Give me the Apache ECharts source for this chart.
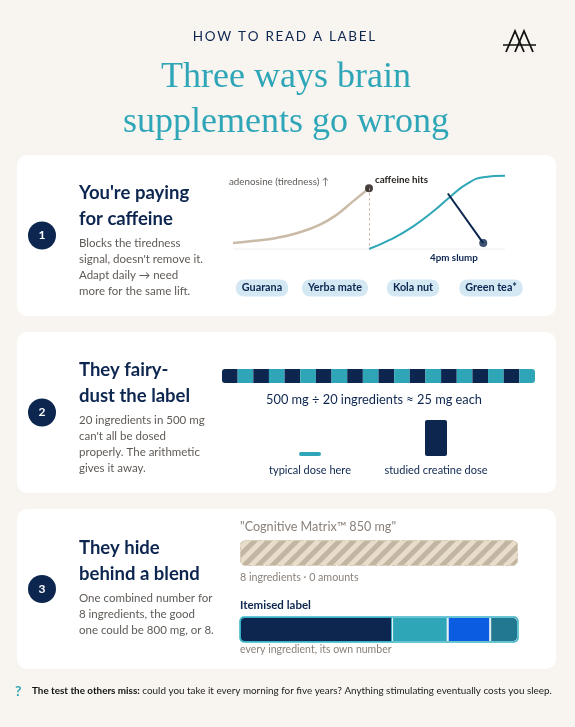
<!DOCTYPE html>
<html><head><meta charset="utf-8">
<script src="https://cdn.jsdelivr.net/npm/echarts@6/dist/echarts.min.js"></script>
<style>html,body{margin:0;padding:0;background:#f8f5f0}#c{width:575px;height:727px}</style>
</head><body><div id="c"></div>
<script>
// ---- data ----
const adenosineCurve = [[0,8],[8,11],[16,15],[24,22],[32,33],[38,46],[44,64],[50,82]];
const caffeineCurve = [[50,0],[58,13],[66,30],[74,52],[80,71],[86,88],[92,97],[100,99]];
const slumpLine = [[79,75],[92,8]];
const caffeineSources = ['Guarana','Yerba mate','Kola nut','Green tea*'];
const blendTotalMg = 500;
const ingredientCount = 20;
const ingredientShares = Array.from({length: ingredientCount}, () => 25);
const doseCategories = ['typical dose here','studied creatine dose'];
const doseHeights = [4, 36];
const blendLabelMg = 850;
const itemisedNames = ['Ingredient A','Ingredient B','Ingredient C','Ingredient D'];
const itemisedMg = [465, 170, 130, 85];

const NAVY='#0d2650', TEAL='#2fa6b8', BEIGE='#c9bba8', GRAY='#5f5a56';
const F='Lato, "Noto Sans", sans-serif';
const chart = echarts.init(document.getElementById('c'));

function txt(x,y,t,o){return Object.assign({type:'text',x:x,y:y,style:Object.assign({text:t,fill:NAVY,font:'12px '+F,textVerticalAlign:'middle'},o||{})});}
function spaced(s){return s.split('').join('\u2009');}
const g = [];
g.push(txt(284,37,spaced('HOW TO READ A LABEL'),{fontFamily:F,fontSize:13.5,align:'center',fill:NAVY}));
g.push(txt(286,78,'Three ways brain',{fontFamily:'"Liberation Serif", serif',fontSize:36,align:'center',fill:TEAL}));
g.push(txt(286,123,'supplements go wrong',{fontFamily:'"Liberation Serif", serif',fontSize:36,align:'center',fill:TEAL}));
// logo
g.push({type:'polyline',shape:{points:[[506,52],[515,31],[524,52]]},style:{stroke:'#111',lineWidth:1.8,fill:null}});
g.push({type:'polyline',shape:{points:[[515,52],[524,31],[533,52]]},style:{stroke:'#111',lineWidth:1.8,fill:null}});
g.push({type:'line',shape:{x1:503,y1:45,x2:536,y2:45},style:{stroke:'#111',lineWidth:1.6}});

const cards=[[155,161],[332,161],[509,160]];
const heads=[["You're paying","for caffeine"],["They fairy-","dust the label"],["They hide","behind a blend"]];
const bodies=[["Blocks the tiredness","signal, doesn't remove it.","Adapt daily → need","more for the same lift."],
["20 ingredients in 500 mg","can't all be dosed","properly. The arithmetic","gives it away."],
["One combined number for","8 ingredients, the good","one could be 800 mg, or 8."]];
const headY=[193,370,548];
cards.forEach((c,i)=>{
  g.push({type:'rect',shape:{x:17,y:c[0],width:539,height:c[1],r:10},style:{fill:'#fff'},z:-1});
  const cy=c[0]+c[1]/2;
  g.push({type:'circle',shape:{cx:42,cy:cy,r:14},style:{fill:NAVY}});
  g.push(txt(42,cy,String(i+1),{align:'center',fill:'#fff',fontFamily:F,fontSize:12,fontWeight:'bold'}));
  g.push(txt(79,headY[i],heads[i][0],{fontFamily:F,fontSize:18.5,fontWeight:'bold'}));
  g.push(txt(79,headY[i]+26,heads[i][1],{fontFamily:F,fontSize:18.5,fontWeight:'bold'}));
  bodies[i].forEach((b,j)=>g.push(txt(79,headY[i]+50+j*16,b,{fontFamily:F,fontSize:11.5,fill:GRAY})));
});
// card1 annotations
g.push(txt(229,182,'adenosine (tiredness) ↑',{fontFamily:F,fontSize:9.8,fill:GRAY}));
g.push(txt(375,180,'caffeine hits',{fontFamily:F,fontSize:9.8,fontWeight:'bold',fill:'#2a2420'}));
g.push(txt(430,258,'4pm slump',{fontFamily:F,fontSize:9.8,fontWeight:'bold',fill:NAVY}));
g.push({type:'line',shape:{x1:233,y1:249,x2:505,y2:249},style:{stroke:'#eeeeee',lineWidth:1},z:-0.5});
const pillX=[262,335,413,491];
caffeineSources.forEach((s,i)=>g.push(txt(pillX[i],288,s,{fontFamily:F,fontSize:10.8,fontWeight:'bold',align:'center',fill:NAVY,backgroundColor:'#d3e8f3',borderRadius:8,padding:[3,6]})));
// card2
g.push(txt(374,400,blendTotalMg+' mg ÷ '+ingredientCount+' ingredients ≈ '+(blendTotalMg/ingredientCount)+' mg each',{fontFamily:F,fontSize:12.8,align:'center',fill:NAVY}));
// card3
g.push(txt(240,527,'"Cognitive Matrix™ '+blendLabelMg+' mg"',{fontFamily:F,fontSize:12.6,fill:'#8a817a'}));
g.push(txt(240,578,'8 ingredients · 0 amounts',{fontFamily:F,fontSize:10.7,fill:'#8a817a'}));
g.push(txt(240,605,'Itemised label',{fontFamily:F,fontSize:11.5,fontWeight:'bold',fill:NAVY}));
g.push(txt(240,650,'every ingredient, its own number',{fontFamily:F,fontSize:10.5,fill:'#8a817a'}));
// footer
g.push(txt(15,691,'?',{fontFamily:F,fontSize:14,fontWeight:'bold',fill:TEAL}));
g.push(txt(32,691,'{b|The test the others miss:} could you take it every morning for five years? Anything stimulating eventually costs you sleep.',{fontFamily:F,fontSize:9.9,fill:'#222',rich:{b:{fontFamily:F,fontSize:9.9,fontWeight:'bold',fill:'#111'}}}));

const grids=[
 {left:233,width:272,top:175,height:74},
 {left:222,width:313,top:369,height:14},
 {left:247,width:252,top:420,height:36},
 {left:240,width:278,top:540,height:26},
 {left:240,width:278,top:617,height:25}
];
const xAxis=[
 {gridIndex:0,type:'value',min:0,max:100,show:false},
 {gridIndex:1,type:'value',min:0,max:blendTotalMg,show:false},
 {gridIndex:2,type:'category',data:doseCategories,axisLine:{show:false},axisTick:{show:false},axisLabel:{interval:0,hideOverlap:false,margin:9,fontFamily:F,fontSize:11,color:NAVY}},
 {gridIndex:3,type:'value',min:0,max:blendLabelMg,show:false},
 {gridIndex:4,type:'value',min:0,max:itemisedMg.reduce((a,b)=>a+b,0),show:false}
];
const yAxis=[
 {gridIndex:0,type:'value',min:0,max:100,show:false},
 {gridIndex:1,type:'category',data:['blend'],show:false},
 {gridIndex:2,type:'value',min:0,max:36,show:false},
 {gridIndex:3,type:'category',data:['label'],show:false},
 {gridIndex:4,type:'category',data:['label'],show:false}
];
const series=[
 {type:'line',xAxisIndex:0,yAxisIndex:0,data:adenosineCurve,smooth:true,showSymbol:false,lineStyle:{color:BEIGE,width:2.5},
  markLine:{symbol:'none',silent:true,label:{show:false},lineStyle:{color:'#c8a990',type:[2,3],width:1},data:[[{coord:[50,82]},{coord:[50,0]}]]}},
 {type:'line',xAxisIndex:0,yAxisIndex:0,data:caffeineCurve,smooth:true,showSymbol:false,lineStyle:{color:TEAL,width:2}},
 {type:'line',xAxisIndex:0,yAxisIndex:0,data:slumpLine,showSymbol:false,lineStyle:{color:NAVY,width:2},z:3},
 {type:'scatter',xAxisIndex:0,yAxisIndex:0,data:[adenosineCurve[adenosineCurve.length-1]],symbolSize:8,itemStyle:{color:'#1a1410'},z:4},
 {type:'scatter',xAxisIndex:0,yAxisIndex:0,data:[slumpLine[1]],symbolSize:8,itemStyle:{color:NAVY},z:4}
];
ingredientShares.forEach((v,i)=>series.push({type:'bar',xAxisIndex:1,yAxisIndex:1,stack:'s',data:[v],barWidth:14,
  itemStyle:{color:i%2?TEAL:NAVY,borderRadius:i===0?[3,0,0,3]:(i===ingredientCount-1?[0,3,3,0]:0)}}));
series.push({type:'bar',xAxisIndex:2,yAxisIndex:2,barWidth:22,data:doseHeights.map((v,i)=>({value:v,itemStyle:{color:i?NAVY:TEAL,borderRadius:2}}))});
series.push({type:'bar',xAxisIndex:3,yAxisIndex:3,barWidth:26,data:[blendLabelMg],
  itemStyle:{color:'#e8dccb',borderRadius:5,borderColor:'#d8ccb8',borderType:'dashed',borderWidth:1,
   decal:{symbol:'rect',color:'#c2b6a2',dashArrayX:[1,0],dashArrayY:[5,5],rotation:-Math.PI/4,symbolSize:1}}});
const segCol=[NAVY,TEAL,'#0b5ce0','#237891'];
itemisedMg.forEach((v,i)=>series.push({type:'bar',xAxisIndex:4,yAxisIndex:4,stack:'it',name:itemisedNames[i],data:[v],barWidth:25,
  itemStyle:{color:segCol[i],borderColor:i===0?'#3ab3c6':'#e6f2f5',borderWidth:1,
   borderRadius:i===0?[4,0,0,4]:(i===itemisedMg.length-1?[0,4,4,0]:0)}}));
g.push({type:'rect',shape:{x:240,y:617,width:278,height:25,r:4},style:{fill:null,stroke:'#3ab3c6',lineWidth:1.5},z:100});

chart.setOption({backgroundColor:'#f8f5f0',animation:false,grid:grids,xAxis:xAxis,yAxis:yAxis,series:series,graphic:{elements:g}});
</script></body></html>
